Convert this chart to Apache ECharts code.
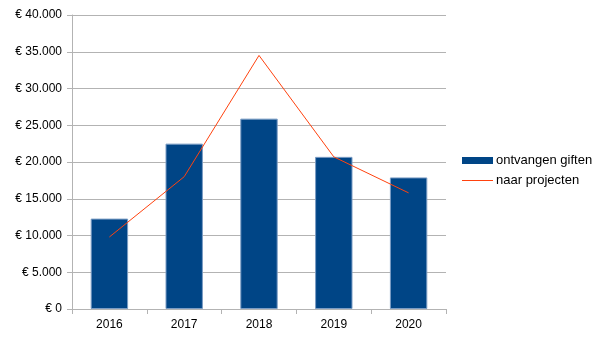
<!DOCTYPE html>
<html>
<head>
<meta charset="utf-8">
<script src="https://cdn.jsdelivr.net/npm/echarts@6/dist/echarts.min.js"></script>
<style>
  html, body { margin: 0; padding: 0; background: #fff; }
  #chart { width: 605px; height: 340px; }
</style>
</head>
<body>
<div id="chart"></div>
<script>
// Jaren en bedragen
const years = ['2016', '2017', '2018', '2019', '2020'];
const ontvangenGiften = [12300, 22500, 25900, 20700, 17900];
const naarProjecten = [9800, 18000, 34500, 20700, 15800];
const yTicks = { min: 0, max: 40000, interval: 5000 };

function euro(v) {
  return '€ ' + String(v).replace(/\B(?=(\d{3})+(?!\d))/g, '.');
}

const chart = echarts.init(document.getElementById('chart'));
const font = 'Liberation Sans';
chart.setOption({
  animation: false,
  textStyle: { fontFamily: font },
  grid: { left: 72, right: 159, top: 15, bottom: 31, containLabel: false },
  legend: {
    orient: 'vertical',
    left: 462,
    top: 154,
    padding: 0,
    itemGap: 7,
    itemWidth: 31,
    itemHeight: 7,
    textStyle: { fontFamily: font, fontSize: 13, color: '#000', padding: [0, 0, 0, -2] },
    data: [
      { name: 'ontvangen giften', icon: 'rect', itemStyle: { color: '#004586', borderWidth: 0 } },
      { name: 'naar projecten', icon: 'path://M0,0 L30,0 L30,1 L0,1 Z', itemStyle: { color: '#ff420e', borderWidth: 0 } }
    ]
  },
  xAxis: {
    type: 'category',
    data: years,
    boundaryGap: true,
    axisLine: { lineStyle: { color: '#b3b3b3', width: 1 } },
    axisTick: { show: true, length: 5, lineStyle: { color: '#b3b3b3' } },
    axisLabel: { color: '#000', fontFamily: font, fontSize: 12, margin: 10 },
    splitLine: { show: false }
  },
  yAxis: {
    type: 'value',
    min: yTicks.min,
    max: yTicks.max,
    interval: yTicks.interval,
    axisLine: { show: true, lineStyle: { color: '#b3b3b3', width: 1 } },
    axisTick: { show: true, length: 5, lineStyle: { color: '#b3b3b3' } },
    axisLabel: { color: '#000', fontFamily: font, fontSize: 12, margin: 10, formatter: euro },
    splitLine: { show: true, lineStyle: { color: '#b3b3b3', width: 1 } }
  },
  series: [
    {
      name: 'ontvangen giften',
      type: 'bar',
      data: ontvangenGiften,
      barWidth: '50%',
      itemStyle: { color: '#004586', borderColor: '#7a9cc4', borderWidth: 1 }
    },
    {
      name: 'naar projecten',
      type: 'line',
      data: naarProjecten,
      symbol: 'none',
      lineStyle: { color: '#ff420e', width: 1 },
      itemStyle: { color: '#ff420e' }
    }
  ]
});
</script>
</body>
</html>
